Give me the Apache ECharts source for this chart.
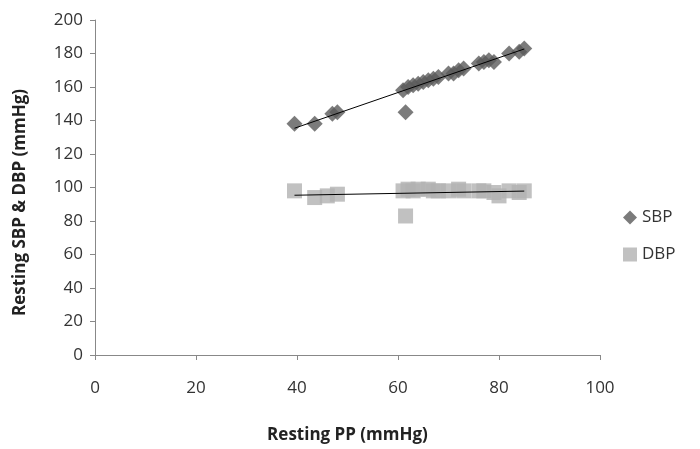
<!DOCTYPE html>
<html><head><meta charset="utf-8">
<script src="https://cdn.jsdelivr.net/npm/echarts@6/dist/echarts.min.js"></script>
<style>html,body{margin:0;padding:0;background:#fff}#c{width:700px;height:449px}</style>
</head><body><div id="c"></div>
<script>
var xTicks = [0, 20, 40, 60, 80, 100];
var yTicks = [0, 20, 40, 60, 80, 100, 120, 140, 160, 180, 200];
var sbpPoints = [[39.5,138],[43.5,138],[47,144],[48,145],[61.5,145],[61,158],[62,160],[63,161],[64,162],[65,163],[66,164],[67,165],[68,166],[70,168],[71,168],[72,170],[73,171],[76,174],[77,175],[78,176],[79,175],[82,180],[84,181],[85,183]];
var dbpPoints = [[39.5,98],[43.5,94],[46,95],[48,96],[61.5,83],[61,98],[62,99],[63,98],[64,99],[66,99],[67,98],[68,98],[70,98],[72,99],[73,98],[76,98],[77,98],[79,97],[80,95],[82,98],[84,97],[85,98]];

function trend(pts){
  var n=pts.length,sx=0,sy=0,sxx=0,sxy=0,mn=Infinity,mx=-Infinity;
  pts.forEach(function(p){sx+=p[0];sy+=p[1];sxx+=p[0]*p[0];sxy+=p[0]*p[1];mn=Math.min(mn,p[0]);mx=Math.max(mx,p[0]);});
  var b=(n*sxy-sx*sy)/(n*sxx-sx*sx),a=(sy-b*sx)/n;
  return [[mn,a+b*mn],[mx,a+b*mx]];
}
var font = '"Open Sans", "Liberation Sans", sans-serif';
var chart = echarts.init(document.getElementById('c'), null, {renderer:'canvas'});
chart.setOption({
  animation:false,
  backgroundColor:'#fff',
  grid:{left:95,right:100,top:20,bottom:94},
  legend:{
    orient:'vertical', left:618, top:204, itemGap:20, itemWidth:14, itemHeight:14,
    textStyle:{fontFamily:font,fontSize:17,color:'#333'},
    data:[{name:'SBP',icon:'diamond'},{name:'DBP',icon:'rect'}]
  },
  xAxis:{
    type:'value',min:0,max:100,interval:20,
    name:'Resting PP (mmHg)',nameLocation:'middle',nameGap:72,
    nameTextStyle:{fontFamily:font,fontSize:17,fontWeight:'bold',color:'#222'},
    axisLine:{lineStyle:{color:'#888'}},
    axisTick:{show:true,length:5,lineStyle:{color:'#888'}},
    axisLabel:{fontFamily:font,fontSize:17,color:'#333',margin:25},
    splitLine:{show:false}
  },
  yAxis:{
    type:'value',min:0,max:200,interval:20,
    name:'Resting SBP & DBP (mmHg)',nameLocation:'middle',nameGap:66,
    nameTextStyle:{fontFamily:font,fontSize:17,fontWeight:'bold',color:'#222',padding:[0,30,0,0]},
    axisLine:{show:true,lineStyle:{color:'#888'}},
    axisTick:{show:true,length:5,lineStyle:{color:'#888'}},
    axisLabel:{fontFamily:font,fontSize:17,color:'#333',margin:12},
    splitLine:{show:false}
  },
  series:[
    {name:'SBP',type:'scatter',symbol:'diamond',symbolSize:16,itemStyle:{color:'#5a5a5a'},data:sbpPoints,z:3},
    {name:'DBP',type:'scatter',symbol:'rect',symbolSize:15,itemStyle:{color:'#b1b1b1'},data:dbpPoints,z:2},
    {name:'SBP trend',type:'line',data:trend(sbpPoints),symbol:'none',lineStyle:{color:'#000',width:1},z:5,silent:true},
    {name:'DBP trend',type:'line',data:trend(dbpPoints),symbol:'none',lineStyle:{color:'#000',width:1},z:5,silent:true}
  ]
});
</script></body></html>
